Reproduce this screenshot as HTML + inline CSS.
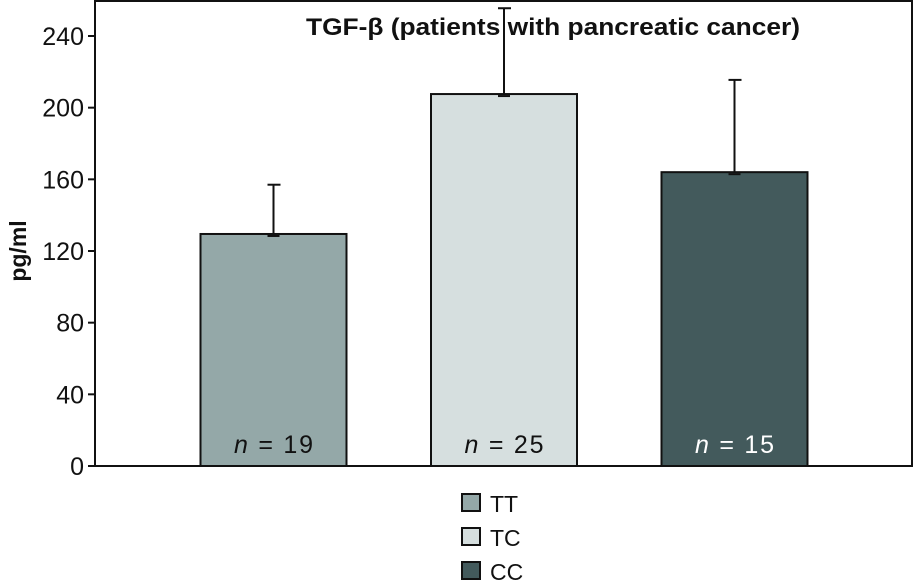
<!DOCTYPE html>
<html><head><meta charset="utf-8"><style>
html,body{margin:0;padding:0;background:#fff;}
svg text{font-family:"Liberation Sans","DejaVu Sans",sans-serif;fill:#111;}
</style></head><body>
<svg id="chart" width="915" height="582" viewBox="0 0 915 582" xmlns="http://www.w3.org/2000/svg"></svg>
<script>
const categories = ["TT","TC","CC"];
const means = [129.5, 207.6, 164];
const errors = [157, 255.5, 215.5];
const nLabels = ["19","25","15"];
const colors = ["#94a8a8","#d6dfdf","#435a5c"];
const nTextColors = ["#111","#111","#fff"];
const yTicks = [0,40,80,120,160,200,240];

const svg = document.getElementById('chart');
const NS = "http://www.w3.org/2000/svg";
const x0 = 95, x1 = 912, yBase = 466;
const yScale = v => yBase - v * (430/240);
const barW = 146;
const xCenter = i => 273.5 + i * 230.5;
function mk(tag, attrs, parent){ const e=document.createElementNS(NS,tag); for(const k in attrs) e.setAttribute(k,attrs[k]); (parent||svg).appendChild(e); return e; }

const frame = mk('rect',{x:x0,y:1,width:x1-x0,height:yBase-1,fill:'none',stroke:'#111','stroke-width':2});



yTicks.forEach(t=>{
  const y=yScale(t);
  const tk=mk('line',{x1:88,x2:x0,y1:y,y2:y,stroke:'#111','stroke-width':2});
  
  
  const tx=mk('text',{x:84,y:y+9,'text-anchor':'end','font-size':25});
  tx.textContent=t;
  
  
});

const yt=mk('text',{x:0,y:0,'font-size':23,'font-weight':'bold','text-anchor':'middle',transform:'translate(26,251) rotate(-90)'});
yt.textContent='pg/ml';



const title=mk('text',{x:306,y:35,'font-size':24,'font-weight':'bold',textLength:494,lengthAdjust:'spacingAndGlyphs'});
title.textContent='TGF-β (patients with pancreatic cancer)';



categories.forEach((c,i)=>{
  const cx=xCenter(i), top=yScale(means[i]), et=yScale(errors[i]);
  const b=mk('rect',{x:cx-barW/2,y:top,width:barW,height:yBase-top,fill:colors[i],stroke:'#111','stroke-width':2});
  
  
  const el=mk('line',{x1:cx,x2:cx,y1:top,y2:et,stroke:'#111','stroke-width':2});
  
  
  const cap=mk('line',{x1:cx-6,x2:cx+7,y1:et,y2:et,stroke:'#111','stroke-width':2});
  
  
  const bc=mk('line',{x1:cx-6,x2:cx+6,y1:top+2,y2:top+2,stroke:'#111','stroke-width':2});
  
  
  const nt=mk('text',{x:cx,y:453,'font-size':25,'text-anchor':'middle',textLength:79,lengthAdjust:'spacing',style:'fill:'+nTextColors[i]});
  nt.innerHTML='<tspan font-style="italic">n</tspan> = '+nLabels[i];
  
  

  const ly=494+i*34;
  const ls=mk('rect',{x:462,y:ly,width:18,height:17,fill:colors[i],stroke:'#111','stroke-width':2});
  
  
  const lt=mk('text',{x:490,y:ly+18,'font-size':23});
  lt.textContent=c;
  
  
});
</script>
</body></html>
